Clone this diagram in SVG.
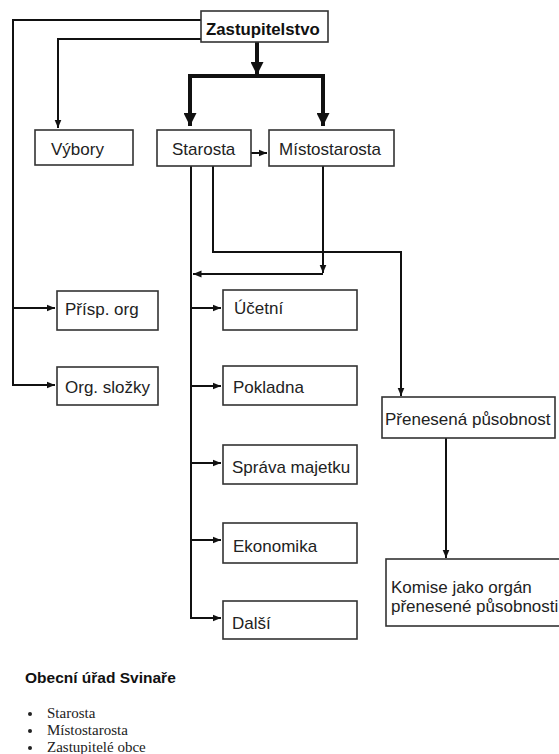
<svg xmlns="http://www.w3.org/2000/svg" width="559" height="754" viewBox="0 0 559 754">
<defs>
<marker id="a" markerUnits="userSpaceOnUse" markerWidth="9" markerHeight="8" refX="8.5" refY="4" orient="auto"><path d="M0,0.5 L8.5,4 L0,7.5 z" fill="#111"/></marker>
<marker id="b" markerUnits="userSpaceOnUse" markerWidth="14" markerHeight="13" refX="13" refY="6.5" orient="auto"><path d="M0,0 L13,6.5 L0,13 z" fill="#111"/></marker>
<style>
.box{fill:#fff;stroke:#333;stroke-width:1.6}
.t{font-family:"Liberation Sans",Arial,sans-serif;font-size:17px;fill:#222}
.tb{font-family:"Liberation Sans",Arial,sans-serif;font-weight:bold;fill:#111}
.s{font-family:"Liberation Serif","Times New Roman",serif;font-size:15px;fill:#222}
.c{fill:none;stroke:#111;stroke-width:2}
.ck{fill:none;stroke:#111;stroke-width:4}
</style>
</defs>
<rect width="559" height="754" fill="#fff"/>
<g id="connectors">
<path class="c" d="M201,20 H13 V385 H55" marker-end="url(#a)"/>
<path class="c" d="M13,308 H55" marker-end="url(#a)"/>
<path class="c" d="M201,39 H58 V128" marker-end="url(#a)"/>
<path class="ck" d="M257,42 V75" marker-end="url(#b)"/>
<path class="ck" d="M190,126 V76 H323 V126"/>
<path class="ck" d="M190,100 V126" marker-end="url(#b)"/>
<path class="ck" d="M323,100 V126" marker-end="url(#b)"/>
<path class="c" d="M246,153 H267" marker-end="url(#a)"/>
<path class="c" d="M191,166 V618 H221" marker-end="url(#a)"/>
<path class="c" d="M191,308 H221" marker-end="url(#a)"/>
<path class="c" d="M191,386 H221" marker-end="url(#a)"/>
<path class="c" d="M191,463 H221" marker-end="url(#a)"/>
<path class="c" d="M191,540 H221" marker-end="url(#a)"/>
<path class="c" d="M213,166 V252 H401 V396" marker-end="url(#a)"/>
<path class="c" d="M323,166 V273" marker-end="url(#a)"/>
<path class="c" d="M323,274 H193" marker-end="url(#a)"/>
<path class="c" d="M446,438 V558" marker-end="url(#a)"/>
</g>
<g id="zastupitelstvo"><rect class="box" x="201" y="11" width="127" height="31"/><text class="tb" x="206" y="35" font-size="16.8">Zastupitelstvo</text></g>
<g id="vybory"><rect class="box" x="35" y="130" width="98" height="35"/><text class="t" x="51" y="155">Výbory</text></g>
<g id="starosta"><rect class="box" x="157" y="130" width="94" height="36"/><text class="t" x="172" y="155">Starosta</text></g>
<g id="mistostarosta"><rect class="box" x="269" y="130" width="125" height="36"/><text class="t" x="279" y="155">Místostarosta</text></g>
<g id="prisp"><rect class="box" x="57" y="291" width="101" height="39"/><text class="t" x="65" y="315">Přísp. org</text></g>
<g id="slozky"><rect class="box" x="57" y="367" width="101" height="38"/><text class="t" x="65" y="393">Org. složky</text></g>
<g id="ucetni"><rect class="box" x="223" y="290" width="134" height="40"/><text class="t" x="234" y="314">Účetní</text></g>
<g id="pokladna"><rect class="box" x="223" y="366" width="134" height="39"/><text class="t" x="233" y="393">Pokladna</text></g>
<g id="sprava"><rect class="box" x="223" y="445" width="134" height="39"/><text class="t" x="232" y="473">Správa majetku</text></g>
<g id="ekonomika"><rect class="box" x="223" y="523" width="134" height="40"/><text class="t" x="233" y="552">Ekonomika</text></g>
<g id="dalsi"><rect class="box" x="223" y="601" width="134" height="38"/><text class="t" x="232" y="629">Další</text></g>
<g id="prenesena"><rect class="box" x="382" y="397" width="173" height="41"/><text class="t" x="385" y="425">Přenesená působnost</text></g>
<g id="komise"><rect class="box" x="386" y="559" width="180" height="67"/><text class="t" x="391" y="593">Komise jako orgán</text><text class="t" x="391" y="612">přenesené působnosti</text></g>
<g id="legend">
<text class="tb" x="25" y="683" font-size="15.5">Obecní úřad Svinaře</text>
<circle cx="30" cy="714" r="2" fill="#222"/><text class="s" x="47" y="718">Starosta</text>
<circle cx="30" cy="731" r="2" fill="#222"/><text class="s" x="47" y="735">Místostarosta</text>
<circle cx="30" cy="748" r="2" fill="#222"/><text class="s" x="47" y="752">Zastupitelé obce</text>
</g>
</svg>
